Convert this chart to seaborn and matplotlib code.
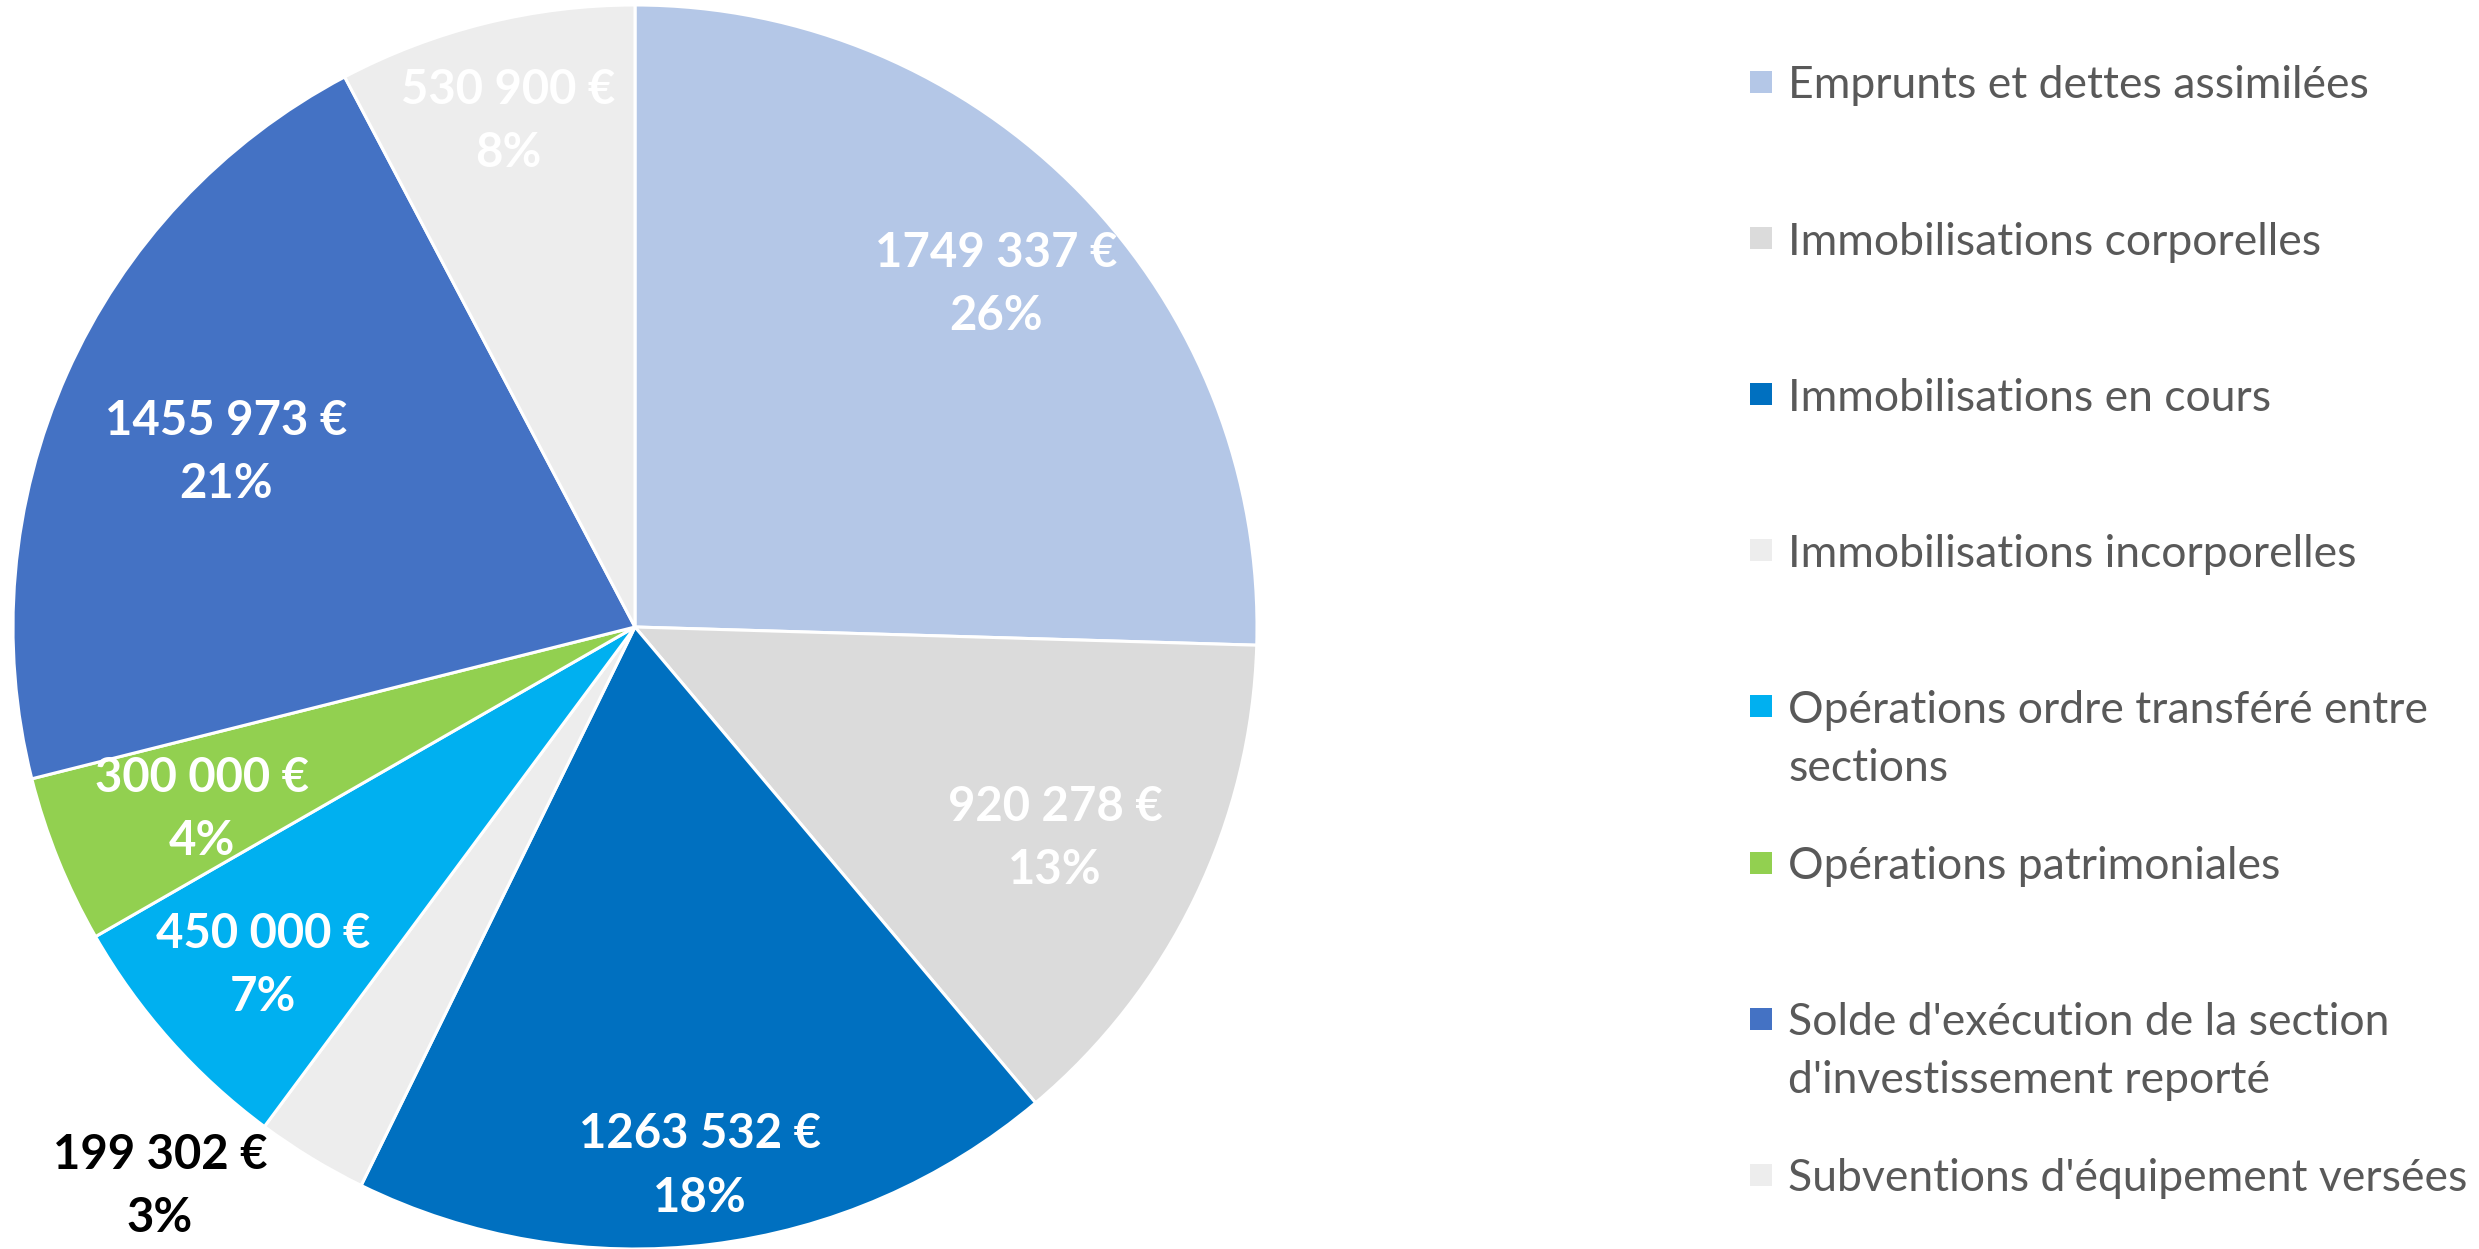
import textwrap
import numpy as np
import matplotlib.pyplot as plt
import seaborn as sns
from matplotlib.patches import Rectangle

# data
categories = ["Emprunts et dettes assimilées",
              "Immobilisations corporelles",
              "Immobilisations en cours",
              "Immobilisations incorporelles",
              "Opérations ordre transféré entre sections",
              "Opérations patrimoniales",
              "Solde d'exécution de la section d'investissement reporté",
              "Subventions d'équipement versées"]
montants = [1749337, 920278, 1263532, 199302, 450000, 300000, 1455973, 530900]
montant_labels = ["1749 337 €", "920 278 €", "1263 532 €", "199 302 €",
                  "450 000 €", "300 000 €", "1455 973 €", "530 900 €"]
pct_labels = ["26%", "13%", "18%", "3%", "7%", "4%", "21%", "8%"]
colors = ["#B4C7E7", "#DBDBDB", "#0070C0", "#EDEDED",
          "#00B0F0", "#92D050", "#4472C4", "#EDEDED"]

sns.set_theme(style="white")
plt.rcParams['font.family'] = ['Lato', 'DejaVu Sans']

W, H = 2479, 1249
fig = plt.figure(figsize=(W / 100, H / 100), dpi=100)

# pie centred at (635, 627) px, radius 622 px
ax = fig.add_axes([13 / W, 0, 1244 / W, 1244 / H])
wedges, _ = ax.pie(montants, colors=colors, startangle=90, counterclock=False,
                   wedgeprops=dict(edgecolor="white", linewidth=2.2))
ax.set_xlim(-1, 1)
ax.set_ylim(-1, 1)
ax.set_aspect("equal")
ax.axis("off")

# data labels
label_r = [0.81, 0.75, 0.86, 1.17, 0.80, 0.75, 0.72, 0.85]
label_shift = [0, 0, 0, -9.4, 0, 0, 0, 0]
for i, w in enumerate(wedges):
    ang = np.deg2rad((w.theta1 + w.theta2) / 2 + label_shift[i])
    x = label_r[i] * np.cos(ang)
    y = label_r[i] * np.sin(ang) - 0.013
    col = "black" if label_r[i] > 1 else "white"
    ax.text(x, y, montant_labels[i] + "\n" + pct_labels[i], ha="center", va="center",
            fontsize=34, fontweight="bold", color=col, linespacing=1.53, clip_on=False)

# legend drawn by hand so the entries keep Excel's even spacing
y0, step, line_h = 82, 156.1, 58
for i, cat in enumerate(categories):
    yc = y0 + i * step
    fig.add_artist(Rectangle((1750 / W, 1 - (yc + 11) / H), 22 / W, 22 / H,
                             transform=fig.transFigure, facecolor=colors[i], edgecolor="none"))
    for k, line in enumerate(textwrap.wrap(cat, 32)):
        fig.text(1788 / W, 1 - (yc + k * line_h) / H, line, ha="left", va="center_baseline",
                 fontsize=32, color="#595959")

fig.savefig("out.png", dpi=100)
